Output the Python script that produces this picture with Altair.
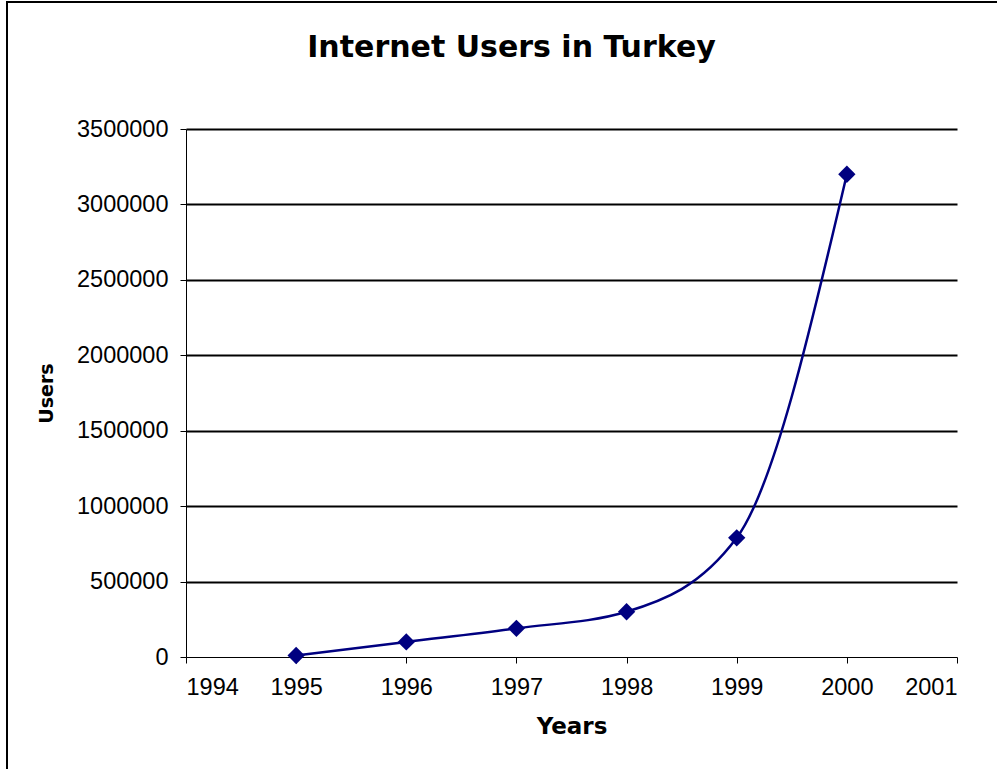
import altair as alt
import pandas as pd

years = [1995, 1996, 1997, 1998, 1999, 2000]
users = [10000, 100000, 190000, 300000, 790000, 3200000]

df = pd.DataFrame({"Year": years, "Users": users})

NAVY = "#000080"
FONT = "Liberation Sans"
BOLD = "DejaVu Sans"

x = alt.X("Year:Q",
          scale=alt.Scale(domain=[1994, 2001], nice=False, zero=False),
          axis=alt.Axis(title="Years", values=[1994, 1995, 1996, 1997, 1998, 1999, 2000, 2001],
                        format="d", grid=False, tickSize=6, tickColor="black",
                        domainColor="black", labelPadding=12, titlePadding=17))
y = alt.Y("Users:Q",
          scale=alt.Scale(domain=[0, 3500000], nice=False),
          axis=alt.Axis(title="Users", values=[0, 500000, 1000000, 1500000, 2000000, 2500000, 3000000, 3500000],
                        format="d", grid=True, gridColor="black", gridWidth=2,
                        gridOpacity=alt.condition("datum.value === 0", alt.value(0), alt.value(1)),
                        tickSize=6, tickColor="black", domainColor="black",
                        labelPadding=12, titlePadding=20))

line = alt.Chart(df).mark_line(color=NAVY, strokeWidth=2.5, interpolate="monotone").encode(x=x, y=y)
pts = alt.Chart(df).mark_point(shape="diamond", filled=True, color=NAVY, size=300, opacity=1).encode(x="Year:Q", y="Users:Q")

frame = alt.Chart(df).mark_rect(fill=None, stroke="black", strokeWidth=1.5, clip=False).encode(
    x=alt.value(-179), x2=alt.value(830), y=alt.value(-127), y2=alt.value(660))

chart = alt.layer(frame, line, pts).properties(
    width=771, height=528,
    title=alt.TitleParams("Internet Users in Turkey", font=BOLD, fontSize=30, fontWeight="bold",
                          color="black", anchor="middle", baseline="alphabetic", offset=-86, dx=-60),
    autosize=alt.AutoSizeParams(type="none"),
    padding={"left": 186, "top": 129, "right": 40, "bottom": 112},
).configure_view(strokeWidth=0).configure_axis(
    labelFont=FONT, labelFontSize=23.5, labelColor="black",
    titleFont=BOLD, titleFontWeight="bold", titleColor="black",
    domainWidth=1,
).configure_axisX(titleFontSize=23).configure_axisY(titleFontSize=19)

chart.save("out.html", embed_options={"renderer": "svg", "actions": False})
